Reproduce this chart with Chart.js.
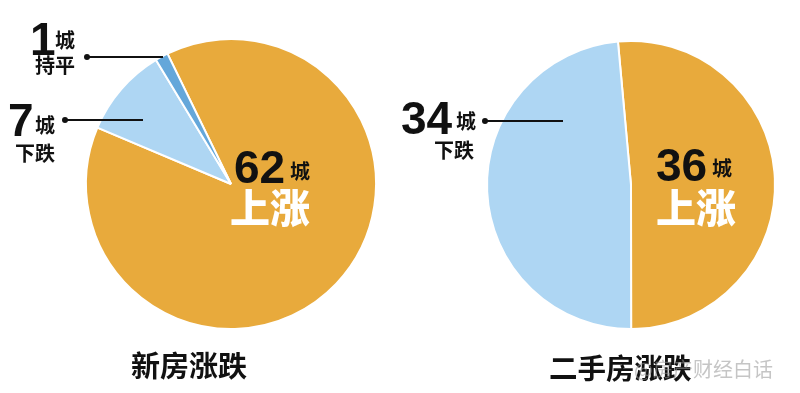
<!DOCTYPE html>
<html>
<head>
<meta charset="utf-8">
<script src="https://cdn.jsdelivr.net/npm/chart.js@4/dist/chart.umd.min.js"></script>
<style>
    body { margin: 0; background: #fff; }
    #wrap { position: relative; width: 800px; height: 393px; overflow: hidden; }
    canvas { position: absolute; top: 0; }
    .t { position: absolute; white-space: nowrap; color: #111; font-weight: bold; }
    .num { font-family: "Liberation Sans", Arial, sans-serif; font-size: 46px; line-height: 46px; }
    .cjk { font-family: "Noto Sans CJK SC", sans-serif; font-size: 20px; line-height: 20px; }
    .big { font-family: "Noto Sans CJK SC", sans-serif; font-size: 40px; line-height: 40px; color: #fff; font-weight: 900; }
    .title { font-family: "Noto Sans CJK SC", sans-serif; font-size: 29px; line-height: 29px; font-weight: bold; }
    .lead { position: absolute; height: 2px; background: #111; }
    .dot { position: absolute; width: 6px; height: 6px; border-radius: 3px; background: #111; }
    .mark { position: absolute; font-family: "Noto Sans CJK SC", sans-serif; font-size: 20px; line-height: 20px; color: rgba(150,150,150,0.55); }
</style>
</head>
<body>
<div id="wrap">
    <canvas id="newChart" width="400" height="393" style="left:0"></canvas>
    <canvas id="resaleChart" width="400" height="393" style="left:400px"></canvas>

    <!-- 新房 -->
    <div class="t num" style="left:30px;top:16px">1</div>
    <div class="t cjk" style="left:55px;top:30px">城</div>
    <div class="t cjk" style="left:35px;top:55px">持平</div>
    <div class="dot" style="left:84px;top:54px"></div>
    <div class="lead" style="left:87px;top:56px;width:76px"></div>

    <div class="t num" style="left:8px;top:97px">7</div>
    <div class="t cjk" style="left:35px;top:115px">城</div>
    <div class="t cjk" style="left:15px;top:143px">下跌</div>
    <div class="dot" style="left:62px;top:117px"></div>
    <div class="lead" style="left:65px;top:119px;width:78px"></div>

    <div class="t num" style="left:234px;top:144px">62</div>
    <div class="t cjk" style="left:290px;top:161px">城</div>
    <div class="t big" style="left:230px;top:186px">上涨</div>

    <!-- 二手房 -->
    <div class="t num" style="left:401px;top:95px">34</div>
    <div class="t cjk" style="left:456px;top:111px">城</div>
    <div class="t cjk" style="left:434px;top:140px">下跌</div>
    <div class="dot" style="left:482px;top:118px"></div>
    <div class="lead" style="left:485px;top:120px;width:78px"></div>

    <div class="t num" style="left:656px;top:142px">36</div>
    <div class="t cjk" style="left:712px;top:158px">城</div>
    <div class="t big" style="left:656px;top:186px">上涨</div>

    <div class="t title" style="left:131px;top:350px">新房涨跌</div>
    <div class="t title" style="left:549px;top:352px;font-size:28.5px">二手房涨跌</div>
    <div class="mark" style="left:634px;top:359px">@房产财经白话</div>
</div>
<script>
const newLabels = ['上涨', '下跌', '持平'];
const newCities = [62, 7, 1];
const resaleLabels = ['上涨', '下跌'];
const resaleCities = [36, 34];
const sliceColors = ['#e8aa3c', '#aed6f3', '#64a7da'];

function makePie(id, labels, values, rotation, padding) {
    const ctx = document.getElementById(id).getContext('2d');
    return new Chart(ctx, {
        type: 'pie',
        data: {
            labels: labels,
            datasets: [{
                data: values,
                backgroundColor: sliceColors.slice(0, values.length),
                borderColor: '#fff',
                borderWidth: 2
            }]
        },
        options: {
            responsive: false,
            animation: false,
            rotation: rotation,
            layout: { padding: padding },
            plugins: {
                legend: { display: false },
                tooltip: { enabled: false }
            }
        }
    });
}

makePie('newChart', newLabels, newCities, -26, { left: 85, right: 23, top: 38, bottom: 63 });
makePie('resaleChart', resaleLabels, resaleCities, -5.2, { left: 86, right: 24, top: 40, bottom: 63 });
</script>
</body>
</html>
